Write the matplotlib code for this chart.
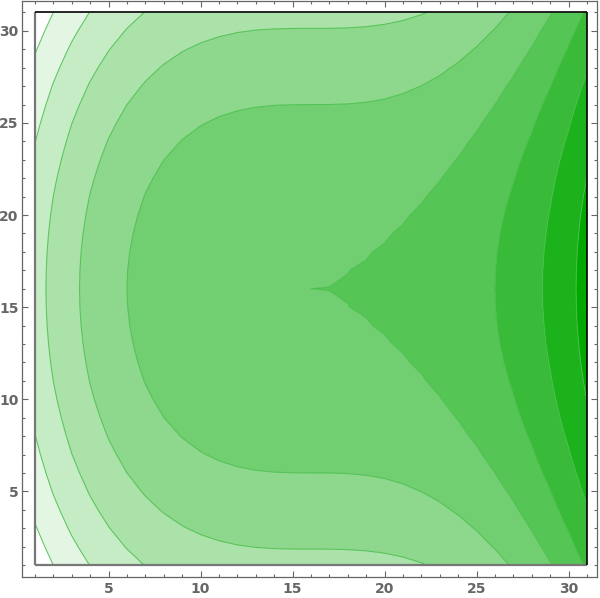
import numpy as np
import matplotlib
matplotlib.use("Agg")
import matplotlib.pyplot as plt

# grid coordinates
x_vals = list(range(1, 32))
y_vals = list(range(1, 32))

# value along the middle row (y = 16), read left to right
center_row = [2.625, 3.256, 3.803, 4.272, 4.669, 5.000, 5.271, 5.488, 5.657, 5.784,
              5.875, 5.936, 5.973, 5.992, 5.999, 6.000, 6.001, 6.008, 6.027, 6.064,
              6.125, 6.216, 6.343, 6.512, 6.729, 7.000, 7.331, 7.728, 8.197, 8.744,
              9.375]
# drop of value per row relative to the middle row, y = 1 .. 31
row_drop = [2.25, 1.96, 1.69, 1.44, 1.21, 1.00, 0.81, 0.64, 0.49, 0.36, 0.25, 0.16,
            0.09, 0.04, 0.01, 0.00, 0.01, 0.04, 0.09, 0.16, 0.25, 0.36, 0.49, 0.64,
            0.81, 1.00, 1.21, 1.44, 1.69, 1.96, 2.25]

contour_levels = [0, 1, 2, 3, 4, 5, 6, 7, 8, 9, 10]

X, Y = np.meshgrid(x_vals, y_vals)
Z = np.array(center_row)[None, :] - np.array(row_drop)[:, None]

nb = len(contour_levels) - 1
colors = []
for k in range(nb):
    t = k / 9.0
    r = (1 - t) * 1.0 + t * 0.0
    g = (1 - t) * 1.0 + t * (168 / 255)
    colors.append((r, g, r))

W, H = 600, 598
fig = plt.figure(figsize=(W / 100, H / 100), dpi=100)
ax = fig.add_axes([22 / W, 21 / H, (597 - 22) / W, (597 - 21) / H])

ax.contourf(X, Y, Z, levels=contour_levels, colors=colors, antialiased=True)
ax.contour(X, Y, Z, levels=contour_levels[1:-1], colors=[(0.28, 0.74, 0.28)],
           linewidths=0.75, alpha=0.85)

# data region boundary
ax.plot([1, 1], [1, 31], color="#777777", lw=1.6, solid_capstyle="butt")
ax.plot([1, 31], [1, 1], color="#777777", lw=1.6, solid_capstyle="butt")
ax.plot([1, 31], [31, 31], color="black", lw=1.2, solid_capstyle="butt")
ax.plot([31, 31], [1, 31], color="black", lw=1.2, solid_capstyle="butt")

ax.set_xlim(1 - 13 / 18.4, 31 + 10 / 18.4)
ax.set_ylim(1 - 12 / 18.42, 31 + 11.5 / 18.42)

ax.set_xticks([5, 10, 15, 20, 25, 30])
ax.set_yticks([5, 10, 15, 20, 25, 30])
ax.set_xticks(range(1, 32), minor=True)
ax.set_yticks(range(1, 32), minor=True)
ax.tick_params(which="both", direction="in", top=True, right=True, color="#666666", width=0.8)
ax.tick_params(which="major", length=4)
ax.tick_params(which="minor", length=2.3)
ax.tick_params(axis="x", which="major", pad=3.5)
ax.tick_params(axis="y", which="major", pad=2.5)
for lab in ax.get_xticklabels() + ax.get_yticklabels():
    lab.set_fontsize(10)
    lab.set_fontweight("bold")
    lab.set_color("#666666")
for s in ax.spines.values():
    s.set_color("#666666")
    s.set_linewidth(0.9)

fig.savefig("out.png", dpi=100)
